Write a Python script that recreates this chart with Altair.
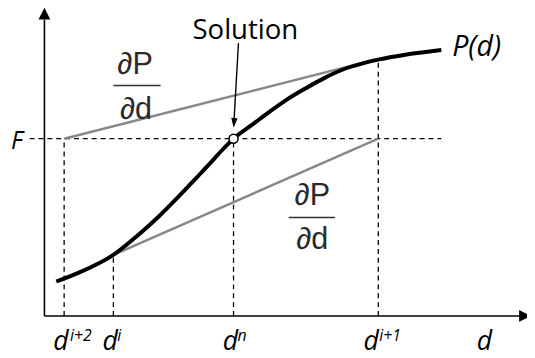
import altair as alt
import pandas as pd

# ---- data (d on the horizontal axis, P on the vertical) ----
curve_d = [1.2, 3.5, 7.0, 9.5, 11.5, 13.5, 15.5, 17.0, 18.0, 19.2, 21.2, 22.8, 24.5, 26.5, 28.5, 30.5, 32.5, 34.0, 36.5, 40.3]
curve_P = [3.5, 4.4, 6.2, 8.2, 10.0, 12.0, 14.1, 15.7, 16.8, 18.0, 19.5, 20.7, 21.9, 23.1, 24.2, 25.1, 25.7, 26.05, 26.5, 27.0]

F_level = 18.0
d_i2, d_i, d_n, d_i1 = 2.0, 7.0, 19.2, 33.9
P_i, P_i1 = 6.2, 26.1

iter_base = ["d", "d", "d", "d", "d"]
iter_sup = ["i+2", "i", "n", "i+1"]

# ---- scales ----
XD = [-3.7, 49.0]
YD = [-4.0, 31.0]


def X(f):
    return alt.X(f, type="quantitative", scale=alt.Scale(domain=XD, nice=False, zero=False), axis=None)


def Y(f):
    return alt.Y(f, type="quantitative", scale=alt.Scale(domain=YD, nice=False, zero=False), axis=None)


# dashed guides
dash_df = pd.DataFrame({
    "x": [d_i2, d_i, d_n, d_i1, -1.5],
    "x2": [d_i2, d_i, d_n, d_i1, 40.3],
    "y": [0, 0, 0, 0, F_level],
    "y2": [F_level, P_i, F_level, P_i1, F_level],
})
dashes = alt.Chart(dash_df).mark_rule(color="black", strokeWidth=1.3, strokeDash=[5, 4]).encode(
    x=X("x"), x2="x2", y=Y("y"), y2="y2")

# tangent lines
tan_df = pd.DataFrame({
    "x": [d_i2, d_i], "y": [F_level, P_i],
    "x2": [d_i1, d_i1], "y2": [P_i1, F_level],
})
tangents = alt.Chart(tan_df).mark_rule(color="#888888", strokeWidth=2.5).encode(
    x=X("x"), x2="x2", y=Y("y"), y2="y2")

# curve
curve_df = pd.DataFrame({"d": curve_d, "P": curve_P})
curve = alt.Chart(curve_df).mark_line(color="black", strokeWidth=4, interpolate="monotone").encode(
    x=X("d"), y=Y("P"), order="d")

# axes
axes_df = pd.DataFrame({"x": [0, 0], "x2": [48.5, 0], "y": [0, 0], "y2": [0, 30.1]})
axes = alt.Chart(axes_df).mark_rule(color="black", strokeWidth=1.6).encode(
    x=X("x"), x2="x2", y=Y("y"), y2="y2")

up_head = alt.Chart(pd.DataFrame({"x": [0], "y": [30.7]})).mark_point(
    shape="M0,-1L-1,1L1,1Z", filled=True, color="black", opacity=1, size=144).encode(x=X("x"), y=Y("y"))
right_head = alt.Chart(pd.DataFrame({"x": [48.8], "y": [0]})).mark_point(
    shape="M1,0L-1,-1L-1,1Z", filled=True, color="black", opacity=1, size=144).encode(x=X("x"), y=Y("y"))

# solution arrow
sol_line = alt.Chart(pd.DataFrame({"x": [19.7], "y": [27.7], "x2": [19.25], "y2": [19.8]})).mark_rule(
    color="black", strokeWidth=1.4).encode(x=X("x"), x2="x2", y=Y("y"), y2="y2")
sol_head = alt.Chart(pd.DataFrame({"x": [19.25], "y": [19.6]})).mark_point(
    shape="M-0.65,-1L0.65,-1L0,1Z", filled=True, color="black", opacity=1, size=100, angle=4).encode(
    x=X("x"), y=Y("y"))

sol_pt = alt.Chart(pd.DataFrame({"x": [d_n], "y": [F_level]})).mark_point(
    shape="circle", filled=True, fill="white", stroke="black", strokeWidth=1.5, opacity=1, size=85).encode(
    x=X("x"), y=Y("y"))

# fraction bars
bar_df = pd.DataFrame({"x": [7.0, 24.8], "x2": [11.8, 29.5], "y": [23.4, 10.0]})
bars = alt.Chart(bar_df).mark_rule(color="#333333", strokeWidth=1.6).encode(
    x=X("x"), x2="x2", y=Y("y"))

# texts
frac_df = pd.DataFrame({"t": ["∂P", "∂d", "∂P", "∂d"], "x": [9.2, 9.3, 27.2, 27.2], "y": [24.6, 20.0, 11.3, 6.8]})
frac = alt.Chart(frac_df).mark_text(font="Liberation Sans", fontSize=31, color="#2a2a2a",
                                    align="center", baseline="alphabetic").encode(
    x=X("x"), y=Y("y"), text="t")

sol_text = alt.Chart(pd.DataFrame({"t": ["Solution"], "x": [20.4], "y": [28.1]})).mark_text(
    font="Open Sans", fontSize=28, color="black", align="center", baseline="alphabetic").encode(
    x=X("x"), y=Y("y"), text="t")

pd_text = alt.Chart(pd.DataFrame({"t": ["P(d)"], "x": [41.4], "y": [26.4]})).mark_text(
    font="Open Sans", fontStyle="italic", fontSize=29, color="black", align="left", baseline="alphabetic").encode(
    x=X("x"), y=Y("y"), text="t")

f_text = alt.Chart(pd.DataFrame({"t": ["F"], "x": [-2.8], "y": [17.0]})).mark_text(
    font="Open Sans", fontStyle="italic", fontSize=25, color="black", align="center", baseline="alphabetic").encode(
    x=X("x"), y=Y("y"), text="t")

base_df = pd.DataFrame({"t": iter_base, "x": [0.9, 5.9, 18.1, 32.4, 43.9], "y": [-3.5] * 5})
base_text = alt.Chart(base_df).mark_text(
    font="Open Sans", fontStyle="italic", fontSize=27, color="black", align="left", baseline="alphabetic").encode(
    x=X("x"), y=Y("y"), text="t")

sup_df = pd.DataFrame({"t": iter_sup, "x": [2.6, 7.4, 19.6, 34.0], "y": [-2.5] * 4})
sup_text = alt.Chart(sup_df).mark_text(
    font="Open Sans", fontStyle="italic", fontSize=16, color="black", align="left", baseline="alphabetic").encode(
    x=X("x"), y=Y("y"), text="t")

chart = alt.layer(
    dashes, tangents, curve, axes, up_head, right_head, sol_line, sol_head, sol_pt, bars,
    frac, sol_text, pd_text, f_text, base_text, sup_text
).properties(width=527, height=350, padding=0, autosize="none", background="white").configure_view(stroke=None)

chart.save("out.html", embed_options={"renderer": "svg", "actions": False})
